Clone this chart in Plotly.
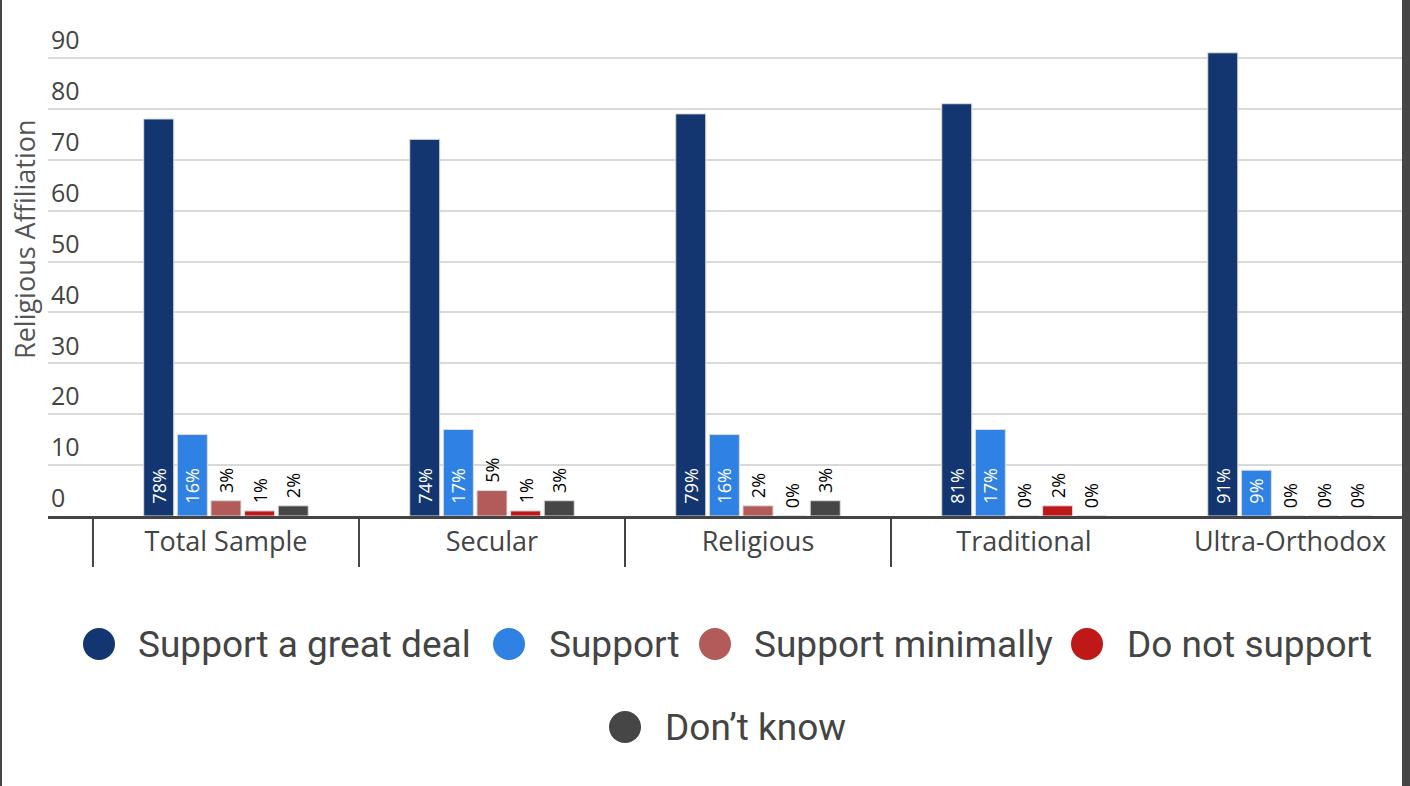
import plotly.graph_objects as go

W, H = 1410, 786
ML, MR, MT, MB = 48, 8, 7, 270

categories = ["Total Sample", "Secular", "Religious", "Traditional", "Ultra-Orthodox"]
series_names = ["Support a great deal", "Support", "Support minimally", "Do not support", "Don’t know"]
great_deal = [78, 74, 79, 81, 91]
support = [16, 17, 16, 17, 9]
minimally = [3, 5, 2, 0, 0]
not_support = [1, 1, 0, 2, 0]
dont_know = [2, 3, 3, 0, 0]
series_values = [great_deal, support, minimally, not_support, dont_know]
colors = ["#143670", "#2f82e3", "#b35a5a", "#bf1818", "#464646"]
y_ticks = [0, 10, 20, 30, 40, 50, 60, 70, 80, 90, 100]

PW = W - ML - MR
PH = H - MT - MB


def px_x(px):
    return (px - ML) / PW


def px_y(py):
    return (H - MB - py) / PH


fig = go.Figure()
for i, (name, vals) in enumerate(zip(series_names, series_values)):
    inside = i < 2
    # non-breaking spaces give the labels a little padding from the bar
    pad = "\u00a0\u00a0" if inside else "\u00a0"
    fig.add_trace(go.Bar(
        x=categories, y=vals, name=name,
        marker=dict(color=colors[i], line=dict(color="#dcdcdc", width=1)),
        texttemplate=pad + "%{y}%",
        textposition="inside" if inside else "outside",
        insidetextanchor="start",
        textangle=-90,
        textfont=dict(family="Open Sans", size=18,
                      color="#ffffff" if inside else "#000000"),
        constraintext="none",
        cliponaxis=False,
        showlegend=False,
    ))

shapes = []
# category dividers below the axis
for k in range(len(categories) - 1):
    shapes.append(dict(type="line", xref="x", yref="paper",
                       x0=k - 0.5, x1=k - 0.5, y0=0, y1=px_y(567),
                       line=dict(color="#444444", width=2)))
# dark frame edges
shapes.append(dict(type="rect", xref="paper", yref="paper", layer="above",
                   x0=px_x(0), x1=px_x(2), y0=px_y(H), y1=px_y(0),
                   fillcolor="#464646", line=dict(width=0)))
shapes.append(dict(type="rect", xref="paper", yref="paper", layer="above",
                   x0=px_x(1402), x1=px_x(W), y0=px_y(H), y1=px_y(0),
                   fillcolor="#464646", line=dict(width=0)))

# manual legend: circle centre, text start, row centre (px)
legend_pos = [(99, 136, 644), (509, 547, 644), (715, 752, 644),
              (1087, 1125, 644), (625, 663, 727)]
annotations = []
for (cx, tx, cy), name, col in zip(legend_pos, series_names, colors):
    shapes.append(dict(type="circle", xref="paper", yref="paper",
                       xsizemode="pixel", ysizemode="pixel",
                       xanchor=px_x(cx), yanchor=px_y(cy),
                       x0=-16, x1=16, y0=-16, y1=16,
                       fillcolor=col, line=dict(width=0)))
    annotations.append(dict(xref="paper", yref="paper", x=px_x(tx), y=px_y(cy),
                            xanchor="left", yanchor="middle", showarrow=False,
                            text=name, font=dict(family="Roboto", size=37, color="#444444")))

annotations.append(dict(xref="paper", yref="paper", x=px_x(24), y=px_y(239),
                        xanchor="center", yanchor="middle", showarrow=False,
                        textangle=-90, text="Religious Affiliation",
                        font=dict(family="Open Sans", size=27, color="#555555")))

fig.update_layout(
    width=W, height=H,
    margin=dict(l=ML, r=MR, t=MT, b=MB),
    paper_bgcolor="white", plot_bgcolor="white",
    barmode="group", bargap=0.368, bargroupgap=0.107,
    shapes=shapes, annotations=annotations,
    xaxis=dict(
        type="category", range=[-0.669, 4.421],
        showline=True, linecolor="#444444", linewidth=3,
        ticks="", showgrid=False, zeroline=False,
        ticklabelstandoff=0,
        tickfont=dict(family="Open Sans", size=27, color="#444444"),
    ),
    yaxis=dict(
        range=[0, 100], tickvals=y_ticks,
        ticktext=[str(v) if v < 100 else "" for v in y_ticks],
        ticklabelposition="inside top",
        showgrid=True, gridcolor="#d9d9d9", gridwidth=2,
        zeroline=False, showline=False, ticks="",
        tickfont=dict(family="Open Sans", size=25, color="#444444"),
    ),
)

fig.write_html("out.html", config={"displayModeBar": False},
               post_script="document.body.style.margin='0';")
